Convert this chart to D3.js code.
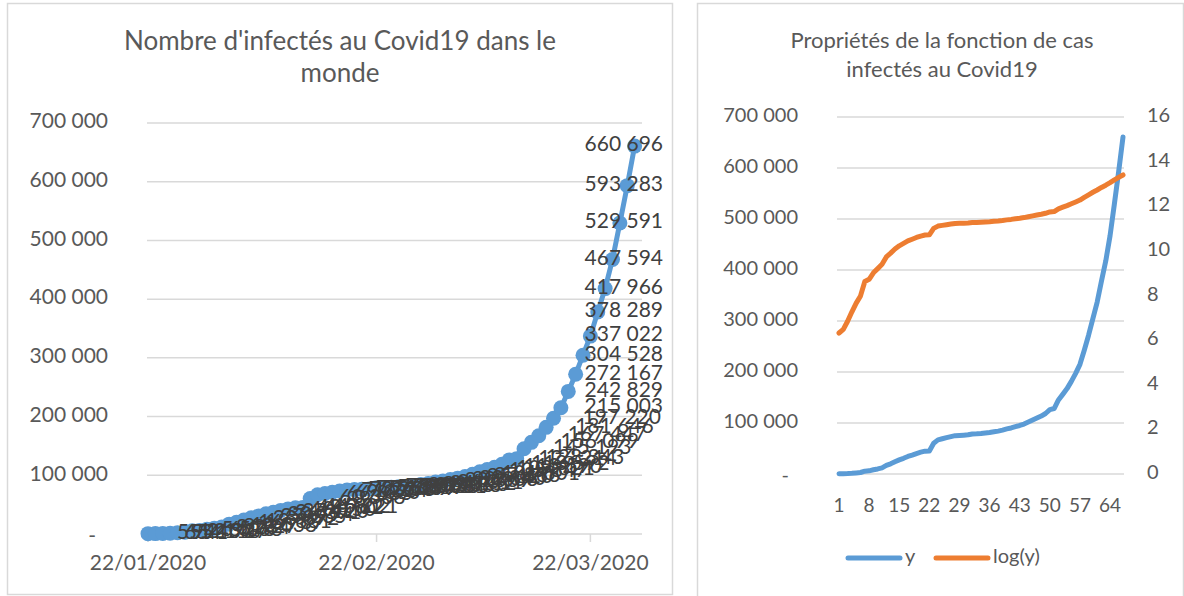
<!DOCTYPE html>
<html>
<head>
<meta charset="utf-8">
<script src="https://cdn.jsdelivr.net/npm/d3@7"></script>
<style>
body { margin: 0; background: #fff; }
text { font-family: Lato, "Open Sans", sans-serif; }
</style>
</head>
<body>
<div id="plot"></div>
<script>
// cumulative confirmed cases, one value per day from 22/01/2020
var startDate = "22/01/2020";
var cases = [555, 654, 941, 1434, 2118, 2927, 5578, 6166, 8234, 9927,
    12038, 16787, 19881, 23892, 27635, 30794, 34391, 37120, 40150, 42762,
    44802, 45221, 60368, 66885, 69030, 71224, 73258, 75136, 75639, 76197,
    76819, 78572, 78958, 79561, 80406, 81388, 82746, 84112, 86011,
    88369, 90306, 92840, 95120, 97886, 101801, 105847, 109821, 113590, 118592,
    126214, 128343, 145193, 156099, 167447, 181646, 197220, 215003, 242829, 272167,
    304528, 337022, 378289, 417966, 467594, 529591, 593283, 660696];

var dateTicks = ["22/01/2020", "22/02/2020", "22/03/2020"];
var yTicks = [0, 100000, 200000, 300000, 400000, 500000, 600000, 700000];
var logTicks = [0, 2, 4, 6, 8, 10, 12, 14, 16];
var dayTicks = [1, 8, 15, 22, 29, 36, 43, 50, 57, 64];
var seriesNames = ["y", "log(y)"];
var titleLeft = ["Nombre d'infectés au Covid19 dans le", "monde"];
var titleRight = ["Propriétés de la fonction de cas", "infectés au Covid19"];

var width = 1184;
var height = 596;
var blue = "#5B9BD5";
var orange = "#ED7D31";
var grid = "#d9d9d9";
var axisCol = "#595959";

var parse = d3.timeParse("%d/%m/%Y");
var fmtNum = function(d) {
    return d === 0 ? "-" : d3.format(",")(d).replace(/,/g, " ");
};

var svg = d3.select("#plot")
    .append("svg")
    .attr("width", width)
    .attr("height", height);

svg.append("rect").attr("width", width).attr("height", height).attr("fill", "#fff");

// ---------- left chart ----------
var first = parse(startDate);
var dates = cases.map(function(d, i) { return d3.timeDay.offset(first, i); });

svg.append("rect")
    .attr("x", 7.5).attr("y", 3.5)
    .attr("width", 665).attr("height", 591)
    .attr("fill", "none").attr("stroke", grid).attr("stroke-width", 1.5);

var x1 = d3.scaleTime()
    .domain([first, d3.timeDay.offset(first, 67)])
    .range([148, 642]);
var y1 = d3.scaleLinear().domain([0, 700000]).range([534, 123]);

svg.selectAll(".title1")
    .data(titleLeft)
    .enter().append("text")
    .attr("x", 340)
    .attr("y", function(d, i) { return 43 + i * 32; })
    .attr("text-anchor", "middle")
    .attr("dominant-baseline", "middle")
    .attr("font-size", "26px")
    .attr("fill", axisCol)
    .text(function(d) { return d; });

svg.selectAll(".grid1")
    .data(yTicks)
    .enter().append("line")
    .attr("x1", 147).attr("x2", 642)
    .attr("y1", function(d) { return y1(d); })
    .attr("y2", function(d) { return y1(d); })
    .attr("stroke", grid).attr("stroke-width", 1.5);

svg.selectAll(".ylab1")
    .data(yTicks)
    .enter().append("text")
    .attr("x", function(d) { return d === 0 ? 96 : 108; })
    .attr("y", function(d) { return y1(d) + (d === 0 ? 4 : 0); })
    .attr("text-anchor", "end")
    .attr("dominant-baseline", "middle")
    .attr("font-size", "21px")
    .attr("fill", axisCol)
    .text(fmtNum);

svg.selectAll(".xtick1")
    .data(dateTicks)
    .enter().append("line")
    .attr("x1", function(d) { return x1(parse(d)); })
    .attr("x2", function(d) { return x1(parse(d)); })
    .attr("y1", 534).attr("y2", 542)
    .attr("stroke", grid).attr("stroke-width", 1.5);

svg.selectAll(".xlab1")
    .data(dateTicks)
    .enter().append("text")
    .attr("x", function(d) { return x1(parse(d)); })
    .attr("y", 565)
    .attr("text-anchor", "middle")
    .attr("dominant-baseline", "middle")
    .attr("font-size", "21px")
    .attr("fill", axisCol)
    .text(function(d) { return d; });

var line1 = d3.line()
    .x(function(d, i) { return x1(dates[i]); })
    .y(function(d) { return y1(d); });

svg.append("path")
    .datum(cases)
    .attr("d", line1)
    .attr("fill", "none")
    .attr("stroke", blue)
    .attr("stroke-width", 5)
    .attr("stroke-linejoin", "round");

svg.selectAll(".dot1")
    .data(cases)
    .enter().append("circle")
    .attr("cx", function(d, i) { return x1(dates[i]); })
    .attr("cy", function(d) { return y1(d); })
    .attr("r", 7.5)
    .attr("fill", blue);

// data labels to the right of each point, kept inside the chart box
svg.selectAll(".lab1")
    .data(cases)
    .enter().append("text")
    .attr("y", function(d) { return y1(d); })
    .attr("dominant-baseline", "middle")
    .attr("font-size", "21px")
    .attr("fill", "#404040")
    .text(fmtNum)
    .each(function(d, i) {
        var w = this.getComputedTextLength();
        var lx = x1(dates[i]) + 29;
        if (lx + w > 663) lx = 663 - w;
        d3.select(this).attr("x", lx);
    });

// ---------- right chart ----------
svg.append("rect")
    .attr("x", 697.5).attr("y", 3.5)
    .attr("width", 486).attr("height", 600)
    .attr("fill", "none").attr("stroke", grid).attr("stroke-width", 1.5);

var days = cases.map(function(d, i) { return i + 1; });
var logs = cases.map(function(d) { return Math.log(d); });

var x2 = d3.scalePoint().domain(days).range([839, 1123]);
var y2 = d3.scaleLinear().domain([0, 700000]).range([474, 117]);
var y3 = d3.scaleLinear().domain([0, 16]).range([474, 117]);

svg.selectAll(".title2")
    .data(titleRight)
    .enter().append("text")
    .attr("x", 942)
    .attr("y", function(d, i) { return 42 + i * 29; })
    .attr("text-anchor", "middle")
    .attr("dominant-baseline", "middle")
    .attr("font-size", "22px")
    .attr("fill", axisCol)
    .text(function(d) { return d; });

svg.selectAll(".grid2")
    .data(yTicks)
    .enter().append("line")
    .attr("x1", 837).attr("x2", 1124)
    .attr("y1", function(d) { return y2(d); })
    .attr("y2", function(d) { return y2(d); })
    .attr("stroke", grid).attr("stroke-width", 1.5);

svg.selectAll(".ylab2")
    .data(yTicks)
    .enter().append("text")
    .attr("x", function(d) { return d === 0 ? 789 : 798; })
    .attr("y", function(d) { return y2(d) + (d === 0 ? 3 : 0); })
    .attr("text-anchor", "end")
    .attr("dominant-baseline", "middle")
    .attr("font-size", "20px")
    .attr("fill", axisCol)
    .text(fmtNum);

svg.selectAll(".ylab3")
    .data(logTicks)
    .enter().append("text")
    .attr("x", 1147)
    .attr("y", function(d) { return y3(d); })
    .attr("dominant-baseline", "middle")
    .attr("font-size", "20px")
    .attr("fill", axisCol)
    .text(function(d) { return d; });

svg.selectAll(".xlab2")
    .data(dayTicks)
    .enter().append("text")
    .attr("x", function(d) { return x2(d); })
    .attr("y", 507)
    .attr("text-anchor", "middle")
    .attr("dominant-baseline", "middle")
    .attr("font-size", "19px")
    .attr("fill", axisCol)
    .text(function(d) { return d; });

var lineY = d3.line()
    .x(function(d, i) { return x2(days[i]); })
    .y(function(d) { return y2(d); });
var lineLog = d3.line()
    .x(function(d, i) { return x2(days[i]); })
    .y(function(d) { return y3(d); });

svg.append("path")
    .datum(cases)
    .attr("d", lineY)
    .attr("fill", "none")
    .attr("stroke", blue)
    .attr("stroke-width", 5)
    .attr("stroke-linejoin", "round")
    .attr("stroke-linecap", "round");

svg.append("path")
    .datum(logs)
    .attr("d", lineLog)
    .attr("fill", "none")
    .attr("stroke", orange)
    .attr("stroke-width", 5)
    .attr("stroke-linejoin", "round")
    .attr("stroke-linecap", "round");

// legend
var legend = svg.selectAll(".leg")
    .data(seriesNames)
    .enter().append("g")
    .attr("transform", function(d, i) { return "translate(" + (848 + i * 88) + ",558)"; });

legend.append("line")
    .attr("x1", 0).attr("x2", 52)
    .attr("stroke", function(d, i) { return i === 0 ? blue : orange; })
    .attr("stroke-width", 5)
    .attr("stroke-linecap", "round");

legend.append("text")
    .attr("x", 57)
    .attr("dominant-baseline", "middle")
    .attr("font-size", "20px")
    .attr("fill", axisCol)
    .text(function(d) { return d; });
</script>
</body>
</html>
